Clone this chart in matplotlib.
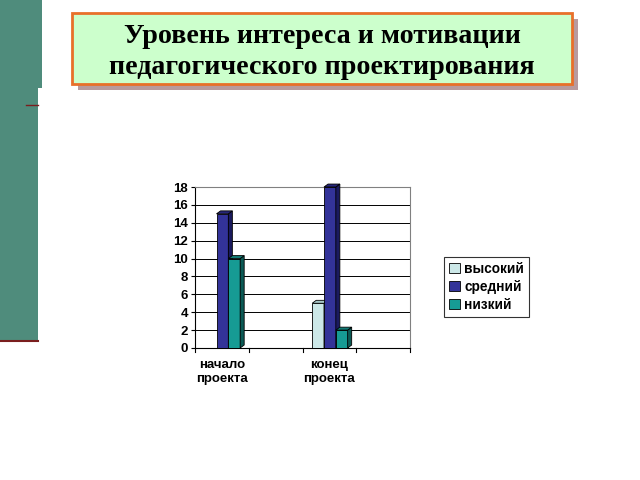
import matplotlib
matplotlib.use("Agg")
import matplotlib.pyplot as plt
from matplotlib.patches import Rectangle, Polygon, Patch

# data
categories = ["начало\nпроекта", "", "конец\nпроекта", ""]
series_names = ["высокий", "средний", "низкий"]
vysokiy = [0, 0, 5, 0]
sredniy = [15, 0, 18, 0]
nizkiy = [10, 0, 2, 0]
values = [vysokiy, sredniy, nizkiy]
yticks = list(range(0, 20, 2))

front = ["#CCE8E8", "#333399", "#169B94"]
side = ["#8FB0B0", "#1A1A5E", "#0B5A55"]
topc = ["#A8C8C8", "#26267A", "#117A74"]

title = "Уровень интереса и мотивации\nпедагогического проектирования"

fig = plt.figure(figsize=(6.4, 4.8), dpi=100)
fig.patch.set_facecolor("white")
W, H = 640, 480

def fx(px):
    return px / W

def fy(py):
    return 1 - py / H

# slide decoration
fig.patches.append(Rectangle((0, fy(88)), fx(42), fy(0) - fy(88), transform=fig.transFigure,
                             facecolor="#4F8C7C", edgecolor="none", zorder=0))
fig.patches.append(Rectangle((0, fy(341)), fx(38), fy(88) - fy(341), transform=fig.transFigure,
                             facecolor="#4F8C7C", edgecolor="none", zorder=0))
fig.lines.append(plt.Line2D([0, fx(38)], [fy(341), fy(341)], transform=fig.transFigure,
                            color="#7A1E1E", lw=1.5))
fig.lines.append(plt.Line2D([fx(26), fx(38)], [fy(105), fy(105)], transform=fig.transFigure,
                            color="#7A1E1E", lw=1))

# title box with shadow
fig.patches.append(Rectangle((fx(78), fy(90)), fx(500), fy(19) - fy(90), transform=fig.transFigure,
                             facecolor="#B89A9E", edgecolor="none", zorder=1))
fig.patches.append(Rectangle((fx(72), fy(84)), fx(500), fy(13) - fy(84), transform=fig.transFigure,
                             facecolor="#CCFFCC", edgecolor="#E8702A", lw=2, zorder=2))
fig.text(fx(322), fy(52), title, ha="center", va="center", family="Liberation Serif",
         fontweight="bold", fontsize=20.2, linespacing=1.3, zorder=3)

# chart
ax = fig.add_axes([fx(195), fy(348), fx(410) - fx(195), fy(187) - fy(348)])
ax.set_xlim(0, 4)
ax.set_ylim(0, 18)
ax.set_yticks(yticks)
ax.set_yticklabels([str(t) for t in yticks], family="Liberation Sans", fontweight="bold", fontsize=9.5)
ax.set_xticks([0.5, 1.5, 2.5, 3.5])
ax.set_xticklabels(categories, family="Liberation Sans", fontweight="bold", fontsize=9.5,
                   linespacing=1.25)
ax.tick_params(axis="x", length=0, pad=8)
ax.tick_params(axis="y", length=3, pad=2)
for k in range(5):
    ax.plot([k, k], [0, -0.5], color="black", lw=0.8, clip_on=False)
ax.grid(axis="y", color="black", lw=0.7)
ax.set_axisbelow(True)
for s in ["top", "right"]:
    ax.spines[s].set_color("#808080")
    ax.spines[s].set_linewidth(0.8)
ax.spines["left"].set_color("black")
ax.spines["bottom"].set_color("black")

w = 0.22
dx, dy = 0.075, 0.33
for j, vals in enumerate(values):
    for i, h in enumerate(vals):
        if h == 0:
            continue
        x = i + 0.18 + j * w
        ax.add_patch(Rectangle((x, 0), w, h, facecolor=front[j], edgecolor="black", lw=0.6, zorder=3))
        ax.add_patch(Polygon([(x + w, 0), (x + w + dx, dy), (x + w + dx, h + dy), (x + w, h)],
                             closed=True, facecolor=side[j], edgecolor="black", lw=0.6, zorder=3,
                             clip_on=False))
        ax.add_patch(Polygon([(x, h), (x + dx, h + dy), (x + w + dx, h + dy), (x + w, h)],
                             closed=True, facecolor=topc[j], edgecolor="black", lw=0.6, zorder=3,
                             clip_on=False))

handles = [Patch(facecolor=front[j], edgecolor="black", lw=0.6, label=series_names[j]) for j in range(3)]
leg = fig.legend(handles=handles, loc="upper left", bbox_to_anchor=(fx(444), fy(257)),
                 prop={"family": "Liberation Sans", "weight": "bold", "size": 9.8},
                 frameon=True, fancybox=False, edgecolor="black", borderpad=0.35,
                 handlelength=0.8, handleheight=0.8, handletextpad=0.35, labelspacing=0.3,
                 borderaxespad=0)
leg.get_frame().set_linewidth(0.8)

fig.savefig("out.png", dpi=100)
